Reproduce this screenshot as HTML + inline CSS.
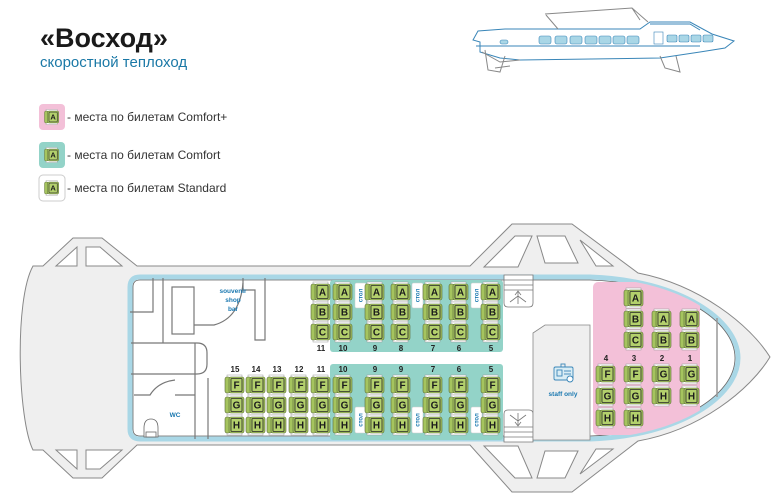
<!DOCTYPE html>
<html><head><meta charset="utf-8"><style>
html,body{margin:0;padding:0;background:#fff;}
svg{display:block;font-family:"Liberation Sans",sans-serif;}
.l{font-weight:bold;font-size:10px;fill:#1c1c1c;text-anchor:middle;}
.n{font-weight:bold;font-size:8px;fill:#222;text-anchor:middle;}
.t{font-weight:bold;font-size:6.5px;fill:#1a78b0;text-anchor:middle;}
.hl{fill:none;stroke:#777;stroke-width:1.2;}
</style></head><body>
<svg width="778" height="500" viewBox="0 0 778 500">
<defs>
<g id="s">
<rect x="-8" y="-10" width="15" height="2.5" fill="#fff" stroke="#999" stroke-width="0.5"/>
<rect x="-8" y="7.5" width="15" height="2.5" fill="#fff" stroke="#999" stroke-width="0.5"/>
<rect x="-10" y="-8" width="5" height="16" rx="2" fill="#a5c45e" stroke="#5a6a3a" stroke-width="0.6"/>
<rect x="-6" y="-8" width="15" height="16" rx="2" fill="#a5c45e" stroke="#5a6a3a" stroke-width="0.6"/>
<rect x="-4" y="-6.5" width="11" height="13" rx="1" fill="#b3d06c" stroke="#2a2a2a" stroke-width="0.8"/>
</g>
<clipPath id="cab"><path d="M140 277 L590 277 C680 280 738 320 738 358 C738 396 680 436 590 439 L140 439 Q130 439 130 429 L130 287 Q130 277 140 277 Z"/></clipPath>
</defs>

<!-- title -->
<text x="40" y="47" font-size="27" font-weight="bold" fill="#1a1a1a">«Восход»</text>
<text x="40" y="67" font-size="15" fill="#1a78a6">скоростной теплоход</text>

<!-- legend -->
<rect x="39" y="104" width="26" height="26" rx="4" fill="#f3c0d8"/>
<rect x="39" y="142" width="26" height="26" rx="4" fill="#93d3c8"/>
<rect x="39" y="175" width="26" height="26" rx="4" fill="#fff" stroke="#ccc"/>
<g transform="translate(52,117) scale(0.75)"><use href="#s"/><text class="l" x="1.5" y="3.5">A</text></g>
<g transform="translate(52,155) scale(0.75)"><use href="#s"/><text class="l" x="1.5" y="3.5">A</text></g>
<g transform="translate(52,188) scale(0.75)"><use href="#s"/><text class="l" x="1.5" y="3.5">A</text></g>
<text x="67" y="121" font-size="12" fill="#333">- места по билетам Comfort+</text>
<text x="67" y="159" font-size="12" fill="#333">- места по билетам Comfort</text>
<text x="67" y="192" font-size="12" fill="#333">- места по билетам Standard</text>

<!-- side ship -->
<g fill="none" stroke="#3a86b8" stroke-width="1">
<path d="M473 40 L478 31 L505 29 L640 29 L650 22 L690 22 L712 34 L734 41 L725 48 L700 52 L660 58 L520 60 L500 58 L480 52 L480 42 Z" fill="#fff"/>
<path d="M545 14 L632 8 L640 20 M546 15 L558 29 M632 8 L648 22" stroke="#888"/>
<path d="M476 46 L700 46" />
<path d="M482 52 L500 62 L520 60" stroke="#888"/>
<path d="M485 50 L488 70 L500 72 L505 56 M495 68 L510 66" stroke="#888"/>
<path d="M660 56 L665 68 L680 72 L676 56" stroke="#888"/>
<path d="M650 24 L690 24 L700 30" />
</g>
<g fill="#a9d6e6" stroke="#3a86b8" stroke-width="0.6">
<rect x="539" y="36" width="12" height="8" rx="2"/><rect x="555" y="36" width="12" height="8" rx="2"/>
<rect x="570" y="36" width="12" height="8" rx="2"/><rect x="585" y="36" width="12" height="8" rx="2"/>
<rect x="599" y="36" width="12" height="8" rx="2"/><rect x="613" y="36" width="12" height="8" rx="2"/>
<rect x="627" y="36" width="12" height="8" rx="2"/>
<rect x="667" y="35" width="10" height="7" rx="1.5"/><rect x="679" y="35" width="10" height="7" rx="1.5"/>
<rect x="691" y="35" width="10" height="7" rx="1.5"/><rect x="703" y="35" width="10" height="7" rx="1.5"/>
<rect x="500" y="40" width="8" height="4" rx="2"/>
<rect x="654" y="32" width="9" height="12" fill="#fff"/>
</g>

<!-- hull -->
<path d="M33 266 L43 266 L73 238 L102 238 L137 266 L470 266 L512 224 L572 224 L638 273 C700 285 750 325 770 357 C750 390 700 430 638 441 L572 492 L512 492 L470 445 L137 445 L102 478 L73 478 L43 450 L33 450 C18 420 14 300 33 266 Z" fill="#efefef" stroke="#888" stroke-width="1"/>
<g fill="#fff" stroke="#888" stroke-width="1">
<path d="M56 266 L77 247 L77 266 Z"/><path d="M86 247 L100 247 L122 266 L86 266 Z"/>
<path d="M56 450 L77 469 L77 450 Z"/><path d="M86 469 L100 469 L122 450 L86 450 Z"/>
<path d="M484 267 L515 236 L532 236 L518 267 Z"/><path d="M537 236 L565 236 L578 263 L545 263 Z"/>
<path d="M580 240 L613 266 L596 266 Z"/>
<path d="M484 446 L515 478 L532 478 L518 446 Z"/><path d="M537 478 L565 478 L578 451 L545 451 Z"/>
<path d="M580 474 L613 449 L596 449 Z"/>
</g>

<!-- cabin -->
<path d="M140 277 L590 277 C680 280 738 320 738 358 C738 396 680 436 590 439 L140 439 Q130 439 130 429 L130 287 Q130 277 140 277 Z" fill="#fff" stroke="#a9d7e6" stroke-width="5"/>
<path d="M140 280 L590 280 C676 283 735 320 735 358 C735 396 676 433 590 436 L140 436 Q133 436 133 429 L133 287 Q133 280 140 280 Z" fill="none" stroke="#666" stroke-width="0.8"/>
<line x1="717" y1="318" x2="717" y2="397" stroke="#999" stroke-width="1.5"/>

<!-- zones -->
<rect x="330" y="280" width="173" height="72" rx="3" fill="#93d3c8"/>
<rect x="330" y="364" width="173" height="76" rx="3" fill="#93d3c8"/>
<g clip-path="url(#cab)"><rect x="593" y="282" width="107" height="153" rx="5" fill="#f3c0d8"/></g>

<!-- tables -->
<g fill="#fff" stroke="#ccc" stroke-width="0.5">
<rect x="355" y="283" width="11" height="25" rx="1.5"/><rect x="412" y="283" width="11" height="25" rx="1.5"/><rect x="471" y="283" width="11" height="25" rx="1.5"/>
<rect x="355" y="407" width="11" height="26" rx="1.5"/><rect x="412" y="407" width="11" height="26" rx="1.5"/><rect x="471" y="407" width="11" height="26" rx="1.5"/>
</g>
<g font-size="6" font-weight="bold" fill="#1a78b0" text-anchor="middle">
<text transform="translate(362.5,295.5) rotate(-90)">стол</text><text transform="translate(419.5,295.5) rotate(-90)">стол</text><text transform="translate(478.5,295.5) rotate(-90)">стол</text>
<text transform="translate(362.5,420) rotate(-90)">стол</text><text transform="translate(419.5,420) rotate(-90)">стол</text><text transform="translate(478.5,420) rotate(-90)">стол</text>
</g>

<!-- stairs -->
<g fill="#fff" stroke="#777" stroke-width="0.8">
<path d="M504 275 L533 275 L533 303 Q533 307 529 307 L508 307 Q504 307 504 303 Z"/>
<path d="M504 442 L533 442 L533 414 Q533 410 529 410 L508 410 Q504 410 504 414 Z"/>
<line x1="504" y1="280" x2="533" y2="280"/><line x1="504" y1="285" x2="533" y2="285"/><line x1="504" y1="290" x2="533" y2="290"/>
<line x1="504" y1="437" x2="533" y2="437"/><line x1="504" y1="432" x2="533" y2="432"/><line x1="504" y1="427" x2="533" y2="427"/>
<path d="M518 304 L518 292 M515 295 L518 291 L521 295 M510 302 L518 296 L526 302"/>
<path d="M518 413 L518 425 M515 422 L518 426 L521 422 M510 415 L518 421 L526 415"/>
</g>

<!-- staff only -->
<path d="M533 333 L545 325 L590 325 L590 440 L533 440 Z" fill="#efefef" stroke="#888" stroke-width="0.8"/>
<g fill="none" stroke="#3a86b8" stroke-width="0.9">
<rect x="554" y="367" width="19" height="13" rx="1.5" fill="#d9edf5"/>
<rect x="557" y="370" width="5" height="6"/><line x1="564" y1="371" x2="571" y2="371"/><line x1="564" y1="374" x2="571" y2="374"/>
<circle cx="570" cy="379" r="3" fill="#fff"/><rect x="561" y="364" width="4" height="3"/>
</g>
<text x="563" y="396" class="t" font-size="7">staff only</text>

<!-- left rooms -->
<g class="hl">
<path d="M130 312 L153 312 L153 278"/>
<path d="M163 278 L163 343"/>
<path d="M131 343 L197 343 Q207 343 207 353 L207 364 Q207 374 197 374 L131 374"/>
<path d="M195 343 L195 439"/>
<path d="M208 378 L208 439"/>
<rect x="172" y="287" width="22" height="47"/>
<path d="M194 325 L214 325 Q240 318 243 283"/>
<path d="M243 278 L243 290 L255 290 L255 340 L265 340 L265 278"/>
<path d="M134 395 L150 395 Q158 382 175 380 M175 395 L195 395"/>
</g>
<g fill="#fff" stroke="#666" stroke-width="0.8">
<path d="M144 437 L144 428 Q144 419 151 419 Q158 419 158 428 L158 437 Z"/>
<rect x="146" y="432" width="10" height="5"/>
</g>
<text x="233" y="293" class="t" text-anchor="end">souvenir</text>
<text x="233" y="302" class="t" text-anchor="end">shop</text>
<text x="233" y="311" class="t" text-anchor="end">bar</text>
<text x="175" y="417" class="t" font-size="7">WC</text>

<!-- top seats -->
<g><g transform="translate(321,292)"><use href="#s"/><text class="l" x="1.5" y="3.5">A</text></g>
<g transform="translate(321,312)"><use href="#s"/><text class="l" x="1.5" y="3.5">B</text></g>
<g transform="translate(321,332)"><use href="#s"/><text class="l" x="1.5" y="3.5">C</text></g>
<g transform="translate(343,292)"><use href="#s"/><text class="l" x="1.5" y="3.5">A</text></g>
<g transform="translate(343,312)"><use href="#s"/><text class="l" x="1.5" y="3.5">B</text></g>
<g transform="translate(343,332)"><use href="#s"/><text class="l" x="1.5" y="3.5">C</text></g>
<g transform="translate(375,292)"><use href="#s"/><text class="l" x="1.5" y="3.5">A</text></g>
<g transform="translate(375,312)"><use href="#s"/><text class="l" x="1.5" y="3.5">B</text></g>
<g transform="translate(375,332)"><use href="#s"/><text class="l" x="1.5" y="3.5">C</text></g>
<g transform="translate(401,292)"><use href="#s"/><text class="l" x="1.5" y="3.5">A</text></g>
<g transform="translate(401,312)"><use href="#s"/><text class="l" x="1.5" y="3.5">B</text></g>
<g transform="translate(401,332)"><use href="#s"/><text class="l" x="1.5" y="3.5">C</text></g>
<g transform="translate(433,292)"><use href="#s"/><text class="l" x="1.5" y="3.5">A</text></g>
<g transform="translate(433,312)"><use href="#s"/><text class="l" x="1.5" y="3.5">B</text></g>
<g transform="translate(433,332)"><use href="#s"/><text class="l" x="1.5" y="3.5">C</text></g>
<g transform="translate(459,292)"><use href="#s"/><text class="l" x="1.5" y="3.5">A</text></g>
<g transform="translate(459,312)"><use href="#s"/><text class="l" x="1.5" y="3.5">B</text></g>
<g transform="translate(459,332)"><use href="#s"/><text class="l" x="1.5" y="3.5">C</text></g>
<g transform="translate(491,292)"><use href="#s"/><text class="l" x="1.5" y="3.5">A</text></g>
<g transform="translate(491,312)"><use href="#s"/><text class="l" x="1.5" y="3.5">B</text></g>
<g transform="translate(491,332)"><use href="#s"/><text class="l" x="1.5" y="3.5">C</text></g></g>
<g><text x="321" y="351" class="n">11</text><text x="343" y="351" class="n">10</text><text x="375" y="351" class="n">9</text><text x="401" y="351" class="n">8</text><text x="433" y="351" class="n">7</text><text x="459" y="351" class="n">6</text><text x="491" y="351" class="n">5</text></g>

<!-- bottom seats -->
<g>
<g transform="translate(235,385)"><use href="#s"/><text class="l" x="1.5" y="3.5">F</text></g>
<g transform="translate(235,405)"><use href="#s"/><text class="l" x="1.5" y="3.5">G</text></g>
<g transform="translate(235,425)"><use href="#s"/><text class="l" x="1.5" y="3.5">H</text></g>
<g transform="translate(256,385)"><use href="#s"/><text class="l" x="1.5" y="3.5">F</text></g>
<g transform="translate(256,405)"><use href="#s"/><text class="l" x="1.5" y="3.5">G</text></g>
<g transform="translate(256,425)"><use href="#s"/><text class="l" x="1.5" y="3.5">H</text></g>
<g transform="translate(277,385)"><use href="#s"/><text class="l" x="1.5" y="3.5">F</text></g>
<g transform="translate(277,405)"><use href="#s"/><text class="l" x="1.5" y="3.5">G</text></g>
<g transform="translate(277,425)"><use href="#s"/><text class="l" x="1.5" y="3.5">H</text></g>
<g transform="translate(299,385)"><use href="#s"/><text class="l" x="1.5" y="3.5">F</text></g>
<g transform="translate(299,405)"><use href="#s"/><text class="l" x="1.5" y="3.5">G</text></g>
<g transform="translate(299,425)"><use href="#s"/><text class="l" x="1.5" y="3.5">H</text></g>
<g transform="translate(321,385)"><use href="#s"/><text class="l" x="1.5" y="3.5">F</text></g>
<g transform="translate(321,405)"><use href="#s"/><text class="l" x="1.5" y="3.5">G</text></g>
<g transform="translate(321,425)"><use href="#s"/><text class="l" x="1.5" y="3.5">H</text></g>
<g transform="translate(343,385)"><use href="#s"/><text class="l" x="1.5" y="3.5">F</text></g>
<g transform="translate(343,405)"><use href="#s"/><text class="l" x="1.5" y="3.5">G</text></g>
<g transform="translate(343,425)"><use href="#s"/><text class="l" x="1.5" y="3.5">H</text></g>
<g transform="translate(375,385)"><use href="#s"/><text class="l" x="1.5" y="3.5">F</text></g>
<g transform="translate(375,405)"><use href="#s"/><text class="l" x="1.5" y="3.5">G</text></g>
<g transform="translate(375,425)"><use href="#s"/><text class="l" x="1.5" y="3.5">H</text></g>
<g transform="translate(401,385)"><use href="#s"/><text class="l" x="1.5" y="3.5">F</text></g>
<g transform="translate(401,405)"><use href="#s"/><text class="l" x="1.5" y="3.5">G</text></g>
<g transform="translate(401,425)"><use href="#s"/><text class="l" x="1.5" y="3.5">H</text></g>
<g transform="translate(433,385)"><use href="#s"/><text class="l" x="1.5" y="3.5">F</text></g>
<g transform="translate(433,405)"><use href="#s"/><text class="l" x="1.5" y="3.5">G</text></g>
<g transform="translate(433,425)"><use href="#s"/><text class="l" x="1.5" y="3.5">H</text></g>
<g transform="translate(459,385)"><use href="#s"/><text class="l" x="1.5" y="3.5">F</text></g>
<g transform="translate(459,405)"><use href="#s"/><text class="l" x="1.5" y="3.5">G</text></g>
<g transform="translate(459,425)"><use href="#s"/><text class="l" x="1.5" y="3.5">H</text></g>
<g transform="translate(491,385)"><use href="#s"/><text class="l" x="1.5" y="3.5">F</text></g>
<g transform="translate(491,405)"><use href="#s"/><text class="l" x="1.5" y="3.5">G</text></g>
<g transform="translate(491,425)"><use href="#s"/><text class="l" x="1.5" y="3.5">H</text></g>
</g>
<g><text x="235" y="372" class="n">15</text><text x="256" y="372" class="n">14</text><text x="277" y="372" class="n">13</text><text x="299" y="372" class="n">12</text><text x="321" y="372" class="n">11</text><text x="343" y="372" class="n">10</text><text x="375" y="372" class="n">9</text><text x="401" y="372" class="n">9</text><text x="433" y="372" class="n">7</text><text x="459" y="372" class="n">6</text><text x="491" y="372" class="n">5</text></g>

<!-- pink seats -->
<g>
<g transform="translate(634,298)"><use href="#s"/><text class="l" x="1.5" y="3.5">A</text></g>
<g transform="translate(634,319)"><use href="#s"/><text class="l" x="1.5" y="3.5">B</text></g>
<g transform="translate(634,340)"><use href="#s"/><text class="l" x="1.5" y="3.5">C</text></g>
<g transform="translate(662,319)"><use href="#s"/><text class="l" x="1.5" y="3.5">A</text></g>
<g transform="translate(662,340)"><use href="#s"/><text class="l" x="1.5" y="3.5">B</text></g>
<g transform="translate(690,319)"><use href="#s"/><text class="l" x="1.5" y="3.5">A</text></g>
<g transform="translate(690,340)"><use href="#s"/><text class="l" x="1.5" y="3.5">B</text></g>
<g transform="translate(606,374)"><use href="#s"/><text class="l" x="1.5" y="3.5">F</text></g>
<g transform="translate(606,396)"><use href="#s"/><text class="l" x="1.5" y="3.5">G</text></g>
<g transform="translate(606,418)"><use href="#s"/><text class="l" x="1.5" y="3.5">H</text></g>
<g transform="translate(634,374)"><use href="#s"/><text class="l" x="1.5" y="3.5">F</text></g>
<g transform="translate(634,396)"><use href="#s"/><text class="l" x="1.5" y="3.5">G</text></g>
<g transform="translate(634,418)"><use href="#s"/><text class="l" x="1.5" y="3.5">H</text></g>
<g transform="translate(662,374)"><use href="#s"/><text class="l" x="1.5" y="3.5">G</text></g>
<g transform="translate(662,396)"><use href="#s"/><text class="l" x="1.5" y="3.5">H</text></g>
<g transform="translate(690,374)"><use href="#s"/><text class="l" x="1.5" y="3.5">G</text></g>
<g transform="translate(690,396)"><use href="#s"/><text class="l" x="1.5" y="3.5">H</text></g>
</g>
<g><text x="606" y="361" class="n">4</text><text x="634" y="361" class="n">3</text><text x="662" y="361" class="n">2</text><text x="690" y="361" class="n">1</text></g>
</svg>
</body></html>
